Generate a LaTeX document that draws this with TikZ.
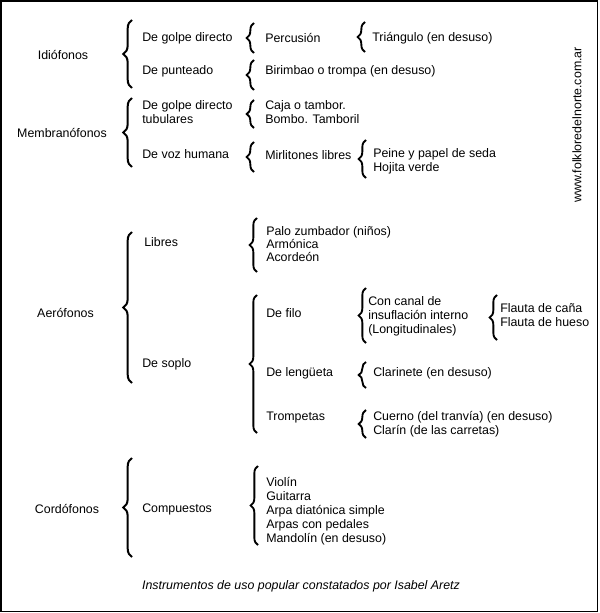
\documentclass[tikz,border=0pt]{standalone}
\usepackage{fontspec}
\setmainfont{Liberation Sans}
\usetikzlibrary{decorations.pathreplacing}
\tikzset{
  lbl/.style={anchor=west, inner sep=0pt, align=left, font=\fontsize{9.3}{10.5}\selectfont},
  clbl/.style={anchor=center, inner sep=0pt, align=center, font=\fontsize{9.3}{10.5}\selectfont},
  bigbrace/.style={decorate, decoration={brace, amplitude=6.5pt}, line width=1.5pt},
  smallbrace/.style={decorate, decoration={brace, amplitude=5.5pt}, line width=1.4pt},
}
\begin{document}
\begin{tikzpicture}[x=0.75pt, y=-0.75pt]
\useasboundingbox (0,0) rectangle (599,613);
\draw[line width=1.3pt] (0.9,0.9) rectangle (597.6,611.6);

% level 0
\node[clbl] (idio) at (63,55) {Idiófonos};
\node[clbl] (memb) at (62,133) {Membranófonos};
\node[clbl] (aero) at (65.5,313) {Aerófonos};
\node[clbl] (cord) at (67,509) {Cordófonos};

% level 0 braces
\coordinate (b1t) at (132,20);  \coordinate (b1b) at (132,88);
\coordinate (b2t) at (132,98);  \coordinate (b2b) at (132,167);
\coordinate (b3t) at (132,232); \coordinate (b3b) at (132,383);
\coordinate (b4t) at (132,458); \coordinate (b4b) at (132,557);
\draw[bigbrace] (b1b) -- (b1t);
\draw[bigbrace] (b2b) -- (b2t);
\draw[bigbrace] (b3b) -- (b3t);
\draw[bigbrace] (b4b) -- (b4t);

% level 1
\node[lbl] (gd) at (142,38) {De golpe directo};
\node[lbl] (pun) at (142,71) {De punteado};
\node[lbl] (gdt) at (142,112) {De golpe directo\\tubulares};
\node[lbl] (voz) at (142,154) {De voz humana};
\node[lbl] (lib) at (144,242) {Libres};
\node[lbl] (sop) at (142,364) {De soplo};
\node[lbl] (comp) at (142,509) {Compuestos};

% level 1 braces
\coordinate (c1t) at (254,23);  \coordinate (c1b) at (254,53);
\coordinate (c2t) at (254,60);  \coordinate (c2b) at (254,90);
\coordinate (c3t) at (254,100); \coordinate (c3b) at (254,128);
\coordinate (c4t) at (254,142); \coordinate (c4b) at (254,172);
\coordinate (c5t) at (257,218); \coordinate (c5b) at (257,272);
\coordinate (c6t) at (257,295); \coordinate (c6b) at (257,433);
\coordinate (c7t) at (258,466); \coordinate (c7b) at (258,545);
\draw[smallbrace] (c1b) -- (c1t);
\draw[smallbrace] (c2b) -- (c2t);
\draw[smallbrace] (c3b) -- (c3t);
\draw[smallbrace] (c4b) -- (c4t);
\draw[smallbrace] (c5b) -- (c5t);
\draw[smallbrace] (c6b) -- (c6t);
\draw[smallbrace] (c7b) -- (c7t);

% level 2
\node[lbl] (perc) at (265,38) {Percusión};
\node[lbl] (biri) at (265,71) {Birimbao o trompa (en desuso)};
\node[lbl] (caja) at (265,112) {Caja o tambor.\\Bombo. Tamboril};
\node[lbl] (mirl) at (265,155) {Mirlitones libres};
\node[lbl, font=\fontsize{9.3}{9.9}\selectfont] (palo) at (266,244) {Palo zumbador (niños)\\Armónica\\Acordeón};
\node[lbl] (filo) at (266,313) {De filo};
\node[lbl] (leng) at (266,373) {De lengüeta};
\node[lbl] (trom) at (266,418) {Trompetas};
\node[lbl] (viol) at (266,511) {Violín\\Guitarra\\Arpa diatónica simple\\Arpas con pedales\\Mandolín (en desuso)};

% level 2 braces
\coordinate (d1t) at (365,22);  \coordinate (d1b) at (365,52);
\coordinate (d2t) at (366,140); \coordinate (d2b) at (366,178);
\coordinate (d3t) at (366,288); \coordinate (d3b) at (366,343);
\coordinate (d4t) at (366,362); \coordinate (d4b) at (366,388);
\coordinate (d5t) at (366,410); \coordinate (d5b) at (366,438);
\draw[smallbrace] (d1b) -- (d1t);
\draw[smallbrace] (d2b) -- (d2t);
\draw[smallbrace] (d3b) -- (d3t);
\draw[smallbrace] (d4b) -- (d4t);
\draw[smallbrace] (d5b) -- (d5t);

% level 3
\node[lbl] (tria) at (372,38) {Triángulo (en desuso)};
\node[lbl] (pein) at (373,161) {Peine y papel de seda\\Hojita verde};
\node[lbl] (cana) at (368,316) {Con canal de\\insuflación interno\\(Longitudinales)};
\node[lbl] (clar) at (373,373) {Clarinete (en desuso)};
\node[lbl] (cuer) at (373,424) {Cuerno (del tranvía) (en desuso)\\Clarín (de las carretas)};

% level 3 brace
\coordinate (e1t) at (497,295); \coordinate (e1b) at (497,340);
\draw[smallbrace] (e1b) -- (e1t);

% level 4
\node[lbl] (flau) at (500,315) {Flauta de caña\\Flauta de hueso};

% side and footer
\node[clbl, rotate=90] (web) at (577,125) {www.folkloredelnorte.com.ar};
\node[clbl, font=\fontsize{9.3}{10.5}\selectfont\itshape] (foot) at (301,586) {Instrumentos de uso popular constatados por Isabel Aretz};
\end{tikzpicture}
\end{document}
